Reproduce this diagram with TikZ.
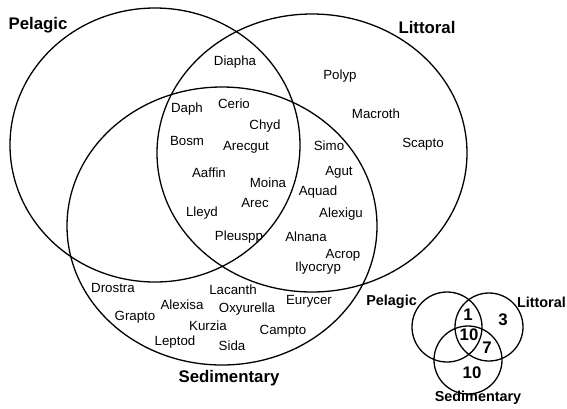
\documentclass[tikz,border=0pt]{standalone}
\usepackage{fontspec}
\setmainfont{Liberation Sans}
\begin{document}
\begin{tikzpicture}[x=1pt,y=-1pt,
    sp/.style={font=\fontsize{13.3}{15}\selectfont, inner sep=0pt},
    ttl/.style={font=\fontsize{16.8}{18}\selectfont\bfseries, inner sep=0pt},
    ttlS/.style={font=\fontsize{14.4}{16}\selectfont\bfseries, inner sep=0pt},
    ring/.style={line width=1.3pt}]
    \useasboundingbox (0,0) rectangle (567,408);

    % Elipses grandes
    \draw[ring] (155,145) ellipse [x radius=145, y radius=137];
    \draw[ring] (312,153) ellipse [x radius=155, y radius=139];
    \draw[ring] (222,226) ellipse [x radius=155, y radius=139];

    % Titulos
    \node[ttl] (pel) at (38,25) {Pelagic};
    \node[ttl] (lit) at (427,27) {Littoral};
    \node[ttl] (sed) at (229,378) {Sedimentary};

    % Especies
    \foreach \x/\y/\name in {235/62/Diapha, 187/109/Daph, 234/104/Cerio,
        265/126/Chyd, 187/141/Bosm, 246/147/Arecgut, 209/173/Aaffin,
        268/183/Moina, 255/203/Arec, 202/213/Lleyd, 239/237/Pleuspp,
        340/76/Polyp, 376/114/Macroth, 423/144/Scapto, 329/146/Simo,
        339/172/Agut, 318/192/Aquad, 341/214/Alexigu, 306/237/Alnana,
        343/255/Acrop, 318/268/Ilyocryp, 309/301/Eurycer,
        113/288/Drostra, 233/290/Lacanth, 182/305/Alexisa,
        247/309/Oxyurella, 135/317/Grapto, 208/326/Kurzia,
        283/331/Campto, 175/342/Leptod, 232/346/Sida} {
        \node[sp] (\name) at (\x,\y) {\name};
    }

    % Diagrama pequeno
    \draw[ring] (447,327) circle [radius=35];
    \draw[ring] (489,327) circle [radius=34];
    \draw[ring] (468,360) circle [radius=34];
    \node[ttlS, anchor=east] (pelS) at (417,302) {Pelagic};
    \node[ttlS, anchor=east] (litS) at (566,302) {Littoral};
    \node[ttlS] (sedS) at (478,398) {Sedimentary};
    \foreach \x/\y/\n/\v in {468/315/a/1, 503/320/b/3, 469/335/c/10,
        487/348/d/7, 472/373/e/10} {
        \node[ttl] (n\n) at (\x,\y) {\v};
    }
\end{tikzpicture}
\end{document}
